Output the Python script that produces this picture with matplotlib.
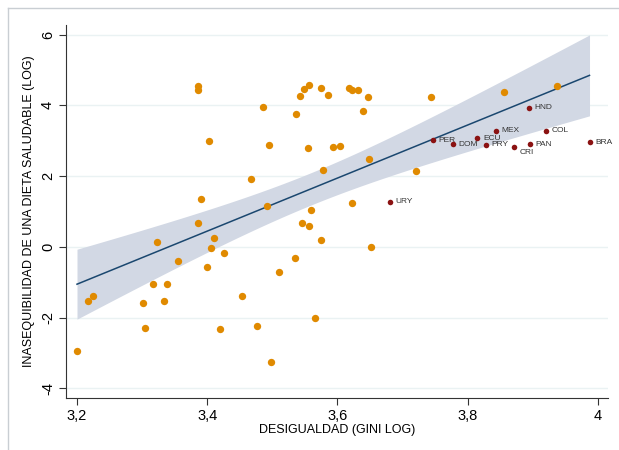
import numpy as np
import matplotlib.pyplot as plt
from matplotlib.ticker import FuncFormatter
from matplotlib.lines import Line2D

plt.rcParams['font.family'] = ['Liberation Sans', 'DejaVu Sans']

# other countries (orange)
gini = [3.200, 3.217, 3.225, 3.302, 3.305, 3.316, 3.323, 3.334, 3.338, 3.355,
        3.386, 3.386, 3.386, 3.390, 3.400, 3.403, 3.406, 3.410, 3.420, 3.426,
        3.454, 3.467, 3.477, 3.486, 3.492, 3.495, 3.498, 3.510, 3.534, 3.537,
        3.542, 3.546, 3.549, 3.554, 3.557, 3.557, 3.560, 3.565, 3.574, 3.574,
        3.577, 3.585, 3.593, 3.604, 3.618, 3.623, 3.623, 3.631, 3.639, 3.647,
        3.649, 3.652, 3.720, 3.744, 3.856, 3.937]
inaseq = [-2.94, -1.52, -1.40, -1.58, -2.30, -1.04, 0.13, -1.53, -1.05, -0.39,
          4.56, 4.43, 0.67, 1.36, -0.57, 3.00, -0.03, 0.24, -2.32, -0.18,
          -1.39, 1.92, -2.24, 3.95, 1.16, 2.89, -3.24, -0.71, -0.31, 3.76,
          4.26, 0.67, 4.47, 2.80, 4.57, 0.60, 1.05, -2.01, 4.50, 0.20,
          2.18, 4.30, 2.83, 2.86, 4.50, 4.44, 1.25, 4.42, 3.83, 4.24,
          2.49, -0.01, 2.15, 4.23, 4.39, 4.55]

# latin american countries (red, labelled)
paises = ['PER', 'DOM', 'ECU', 'MEX', 'PRY', 'CRI', 'PAN', 'COL', 'HND', 'BRA', 'URY']
gini_al = [3.746, 3.777, 3.815, 3.843, 3.828, 3.871, 3.895, 3.920, 3.894, 3.987, 3.680]
inaseq_al = [3.02, 2.90, 3.07, 3.28, 2.88, 2.82, 2.90, 3.28, 3.93, 2.95, 1.28]

xticks = [3.2, 3.4, 3.6, 3.8, 4.0]
yticks = [-4, -2, 0, 2, 4, 6]

# linear fit + 95% CI (all countries)
x = np.array(gini + gini_al)
y = np.array(inaseq + inaseq_al)
n = len(x)
b, a = np.polyfit(x, y, 1)
res = y - (a + b * x)
s = np.sqrt(np.sum(res ** 2) / (n - 2))
sxx = np.sum((x - x.mean()) ** 2)
xg = np.linspace(x.min(), x.max(), 200)
yg = a + b * xg
se = s * np.sqrt(1 / n + (xg - x.mean()) ** 2 / sxx)
t = 1.997

fig = plt.figure(figsize=(6.19, 4.5), dpi=100)
# outer frame (only top and left visible)
fc = '#c9ced3'
fig.lines.append(Line2D([8 / 619, 1], [1 - 8 / 450, 1 - 8 / 450], transform=fig.transFigure, color=fc, lw=1))
fig.lines.append(Line2D([8 / 619, 8 / 619], [0, 1 - 8 / 450], transform=fig.transFigure, color=fc, lw=1))

ax = fig.add_axes([66 / 619, 52 / 450, 542 / 619, 373 / 450])

ax.fill_between(xg, yg - t * se, yg + t * se, color='#d2d8e4', lw=0, zorder=1)
ax.plot(xg, yg, color='#1a476f', lw=1.1, zorder=2)
ax.scatter(gini, inaseq, s=28, color='#e08a00', lw=0, zorder=3)
ax.scatter(gini_al, inaseq_al, s=16, color='#8b1212', lw=0, zorder=3)
for p, gx, gy in zip(paises, gini_al, inaseq_al):
    off = (4, -4) if p == 'CRI' else (4, 0)
    ax.annotate(p, (gx, gy), xytext=off, textcoords='offset points',
                fontsize=6, color='#333333', va='center', annotation_clip=False)

ax.set_xlim(3.1831, 4.0154)
ax.set_ylim(-4.27, 6.27)
ax.set_xticks(xticks)
ax.set_yticks(yticks)
fmt = FuncFormatter(lambda v, p: ('%g' % v).replace('.', ','))
ax.xaxis.set_major_formatter(fmt)
ax.yaxis.set_major_formatter(fmt)
ax.tick_params(labelsize=10.5, length=5, color='#333333', pad=3)
plt.setp(ax.get_yticklabels(), rotation=90, va='center')
ax.grid(axis='y', color='#eaf2f3', lw=1)
ax.set_axisbelow(True)
for sp in ['top', 'right']:
    ax.spines[sp].set_visible(False)
ax.spines['left'].set_color('#333333')
ax.spines['bottom'].set_color('#333333')
ax.set_xlabel('DESIGUALDAD (GINI LOG)', fontsize=9, labelpad=1)
ax.set_ylabel('INASEQUIBILIDAD DE UNA DIETA SALUDABLE (LOG)', fontsize=9, labelpad=4)

fig.savefig('out.png', dpi=100)
